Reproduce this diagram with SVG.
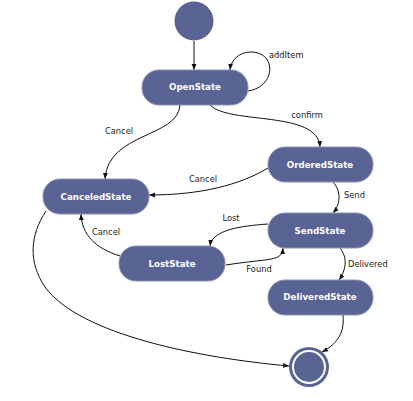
<svg xmlns="http://www.w3.org/2000/svg" width="413" height="401" viewBox="0 0 413 401">
<style>
.node{fill:#596394;stroke:#8a92bb;stroke-width:1}
.nt{font-family:"DejaVu Sans",sans-serif;font-weight:bold;font-size:8.7px;fill:#ffffff;text-anchor:middle}
.lbl{font-family:"DejaVu Sans",sans-serif;font-size:8.3px;fill:#222222}
.c{text-anchor:middle}
.edge{fill:none;stroke:#111111;stroke-width:1}
</style>
<defs>
<marker id="arr" viewBox="0 0 10 10" refX="10" refY="5" markerWidth="6" markerHeight="6" orient="auto" markerUnits="userSpaceOnUse">
<path d="M0,1 L10,5 L0,9 z" fill="#111111"/>
</marker>
</defs>
<rect width="413" height="401" fill="#ffffff"/>
<g id="connectors">
<path class="edge" marker-end="url(#arr)" d="M194,41 L194,70"/>
<path class="edge" marker-end="url(#arr)" d="M248,91 C276,87 277,52 251,52 C239,52 231,60 230,70"/>
<path class="edge" marker-end="url(#arr)" d="M180,105 C178,138 108,132 105,179"/>
<path class="edge" marker-end="url(#arr)" d="M210,105 C230,125 318,110 320,147"/>
<path class="edge" marker-end="url(#arr)" d="M268,168 C240,185 200,195 149,195"/>
<path class="edge" marker-end="url(#arr)" d="M333,182 C342,192 340,205 333,213"/>
<path class="edge" marker-end="url(#arr)" d="M268,224 C240,226 212,230 210,246"/>
<path class="edge" marker-end="url(#arr)" d="M226,265 C270,258 282,262 283,248"/>
<path class="edge" marker-end="url(#arr)" d="M120,256 C95,248 82,235 81,214"/>
<path class="edge" marker-end="url(#arr)" d="M340,248 C348,258 346,270 339,280"/>
<path class="edge" marker-end="url(#arr)" d="M343,315 C345,335 335,345 322,352"/>
<path class="edge" marker-end="url(#arr)" d="M46,211 C30,235 28,262 45,287 C80,335 200,358 289,366"/>
<text class="lbl" x="269" y="58">addItem</text>
<text class="lbl c" x="119" y="134">Cancel</text>
<text class="lbl c" x="307" y="118">confirm</text>
<text class="lbl c" x="203" y="182">Cancel</text>
<text class="lbl" x="344" y="198">Send</text>
<text class="lbl c" x="231" y="221">Lost</text>
<text class="lbl c" x="259" y="272">Found</text>
<text class="lbl c" x="106" y="235">Cancel</text>
<text class="lbl" x="348" y="267">Delivered</text>
</g>
<g id="initial">
<circle cx="194" cy="21" r="19.5" fill="#596394"/>
</g>
<g id="OpenState">
<rect class="node" x="142" y="70" width="106" height="35" rx="17"/>
<text class="nt" x="195" y="90">OpenState</text>
</g>
<g id="CanceledState">
<rect class="node" x="43" y="179" width="106" height="35" rx="17"/>
<text class="nt" x="96" y="200">CanceledState</text>
</g>
<g id="OrderedState">
<rect class="node" x="268" y="147" width="105" height="35" rx="17"/>
<text class="nt" x="320" y="168">OrderedState</text>
</g>
<g id="SendState">
<rect class="node" x="268" y="213" width="105" height="35" rx="17"/>
<text class="nt" x="320" y="234">SendState</text>
</g>
<g id="LostState">
<rect class="node" x="119" y="246" width="106" height="35" rx="17"/>
<text class="nt" x="172" y="267">LostState</text>
</g>
<g id="DeliveredState">
<rect class="node" x="268" y="280" width="105" height="35" rx="17"/>
<text class="nt" x="320" y="300">DeliveredState</text>
</g>
<g id="final">
<circle cx="309" cy="367" r="20" fill="#596394"/>
<circle cx="309" cy="367" r="17" fill="#ffffff"/>
<circle cx="309" cy="367" r="15" fill="#596394"/>
</g>
</svg>
